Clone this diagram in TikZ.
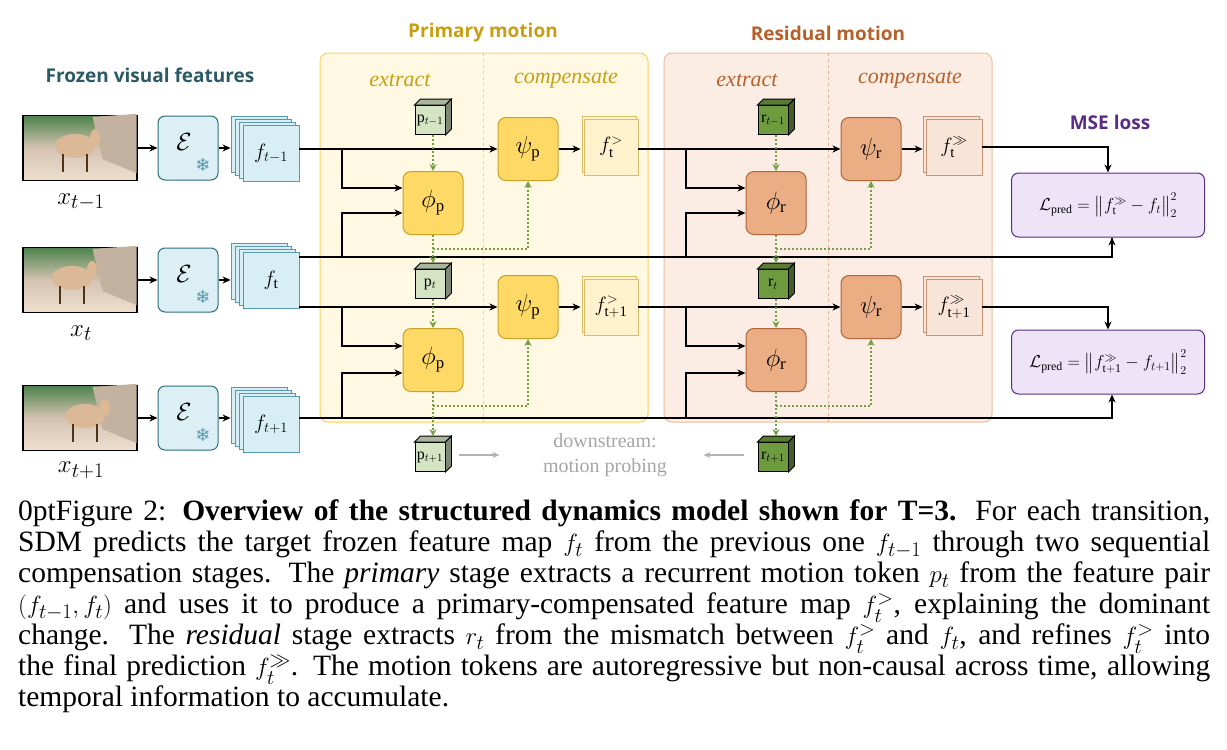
\documentclass[tikz,border=0pt]{standalone}
\usepackage{fontspec}
\usepackage{amsmath,amssymb}
\setmainfont{Liberation Serif}
\newfontfamily\djv{DejaVu Sans}
\newfontfamily\osans{Open Sans}
\usetikzlibrary{arrows.meta,calc}
\definecolor{fblue}{HTML}{D7EEF5}
\definecolor{fborder}{HTML}{5A98AE}
\definecolor{eblue}{HTML}{DCEFF4}
\definecolor{eborder}{HTML}{2E6E7C}
\definecolor{ygold}{HTML}{FFD966}
\definecolor{yborder}{HTML}{C9A227}
\definecolor{ypale}{HTML}{FFF2CC}
\definecolor{ytxt}{HTML}{C89E12}
\definecolor{ofill}{HTML}{EAAD84}
\definecolor{oborder}{HTML}{B0643A}
\definecolor{opale}{HTML}{F9E4D8}
\definecolor{otxt}{HTML}{B8602A}
\definecolor{pfill}{HTML}{EDE4F7}
\definecolor{pborder}{HTML}{5B2C83}
\definecolor{dgreen}{HTML}{72A043}
\definecolor{lgcube}{HTML}{D5E4C3}
\definecolor{dgcube}{HTML}{6E9B3D}
\definecolor{teal}{HTML}{2A5A66}
\tikzset{
 ln/.style={line width=1.4pt,black},
 arr/.style={ln,-{Stealth[length=8pt,width=7pt]}},
 gdot/.style={dgreen,line width=1.8pt,dash pattern=on 1.8pt off 2.2pt,-{Stealth[length=7pt,width=7pt]}},
 ebox/.style={draw=eborder,fill=eblue,line width=1pt,rounded corners=7pt,minimum width=60pt,minimum height=64pt,inner sep=0pt},
 fbox/.style={draw=fborder,fill=fblue,line width=0.8pt,minimum width=56pt,minimum height=56pt,inner sep=0pt,font=\fontsize{22}{24}\selectfont},
 ybox/.style={draw=yborder,fill=ygold,line width=1pt,rounded corners=8pt,minimum width=60pt,minimum height=63pt,inner sep=0pt,font=\fontsize{24}{26}\selectfont},
 obox/.style={draw=oborder,fill=ofill,line width=1pt,rounded corners=8pt,minimum width=60pt,minimum height=63pt,inner sep=0pt,font=\fontsize{24}{26}\selectfont},
 ypbox/.style={draw=yborder!70,fill=ypale,line width=0.8pt,minimum width=54pt,minimum height=56pt,inner sep=0pt,font=\fontsize{21}{23}\selectfont},
 opbox/.style={draw=oborder!70,fill=opale,line width=0.8pt,minimum width=56pt,minimum height=56pt,inner sep=0pt,font=\fontsize{21}{23}\selectfont},
 msebox/.style={draw=pborder,fill=pfill,line width=1pt,rounded corners=7pt,minimum width=193pt,minimum height=64pt,inner sep=0pt,font=\fontsize{17}{19}\selectfont},
 cubef/.style={draw=black,line width=0.9pt,minimum width=30pt,minimum height=29pt,inner sep=0pt,font=\fontsize{16}{17}\selectfont},
 ttl/.style={font=\osans\bfseries\fontsize{19}{21}\selectfont},
 phase/.style={font=\itshape\fontsize{22}{24}\selectfont},
 xlab/.style={font=\fontsize{28}{30}\selectfont},
}
\newcommand\featstack[4]{%
 \foreach \d in {12,8,4}{\draw[fill=fblue,draw=fborder,line width=0.8pt] ({#2-28-\d},{#3-28-\d*0.75}) rectangle ++(56,56);}
 \node[fbox] (#1) at (#2,#3) {#4};}
\newcommand\mycube[5]{% name x y fill label
 \node[cubef,fill=#4] (#1) at (#2,#3) {#5};
 \draw[fill=#4!80!black,line width=0.9pt] (#1.north west) -- ++(6,-6) -- ($(#1.north east)+(6,-6)$) -- (#1.north east) -- cycle;
 \draw[fill=#4!60!black,line width=0.9pt] (#1.north east) -- ++(6,-6) -- ($(#1.south east)+(6,-6)$) -- (#1.south east) -- cycle;}
\newcommand\camimg[4]{% name x y camel-x offset
 \node[draw=black,line width=1.2pt,minimum width=114pt,minimum height=65pt,inner sep=0pt,top color=green!30!black!70,bottom color=brown!25!white,middle color=brown!30!white!90!black] (#1) at (#2,#3) {};
 \fill[gray!55!brown!60] ($(#1.north east)+(-45,2)$) -- ($(#1.north east)+(-1,-1)$) -- ($(#1.south east)+(-1,-8)$) -- ($(#1.south east)+(-35,-22)$) -- cycle;
 \fill[brown!55!white] ($(#1.center)+(#4,-2)$) ellipse (20pt and 12pt);
 \fill[brown!55!white] ($(#1.center)+(#4,-2)+(20,-8)$) ellipse (5pt and 9pt);
 \draw[brown!40!black,line width=2pt] ($(#1.center)+(#4,-2)+(-12,8)$) -- ++(0,18) ($(#1.center)+(#4,-2)+(12,8)$) -- ++(0,18);}
\begin{document}
\begin{tikzpicture}[x=1pt,y=-1pt]
\useasboundingbox (0,0) rectangle (1227,750);
\fill[white] (0,0) rectangle (1227,750);
% panels
\draw[draw=ygold!90!orange,fill=ypale!55,line width=1pt,rounded corners=8pt] (320,53) rectangle (648,422);
\draw[dashed,ygold!90!orange,line width=0.8pt] (483,53) -- (483,422);
\draw[draw=ofill!80,fill=opale!70,line width=1pt,rounded corners=8pt] (664,53) rectangle (992,422);
\draw[dashed,ofill,line width=0.8pt] (828,53) -- (828,422);
\node[ttl,ytxt] (tp) at (483,33) {Primary motion};
\node[ttl,otxt] (tr) at (828,33) {Residual motion};
\node[ttl,teal] (tf) at (150,75) {Frozen visual features};
\node[ttl,pborder] (tm) at (1110,122) {MSE loss};
\node[phase,ytxt] (pe) at (400,80) {extract};
\node[phase,ytxt] (pc) at (566,80) {compensate};
\node[phase,otxt] (re) at (747,80) {extract};
\node[phase,otxt] (rc) at (910,80) {compensate};
% rows
\coordinate (y1) at (0,149);
\coordinate (y2a) at (0,257);
\coordinate (y2b) at (0,307);
\coordinate (y3) at (0,418);
\camimg{img1}{80}{148}{-5}
\camimg{img2}{80}{280}{-8}
\camimg{img3}{80}{418}{5}
\node[xlab] (x1) at (81,202) {$x_{t-1}$};
\node[xlab] (x2) at (81,333) {$x_t$};
\node[xlab] (x3) at (81,470) {$x_{t+1}$};
\foreach \n/\y in {1/148,2/280,3/418}{
 \node[ebox] (e\n) at (188,\y) {};
 \node[font=\fontsize{32}{32}\selectfont] at ($(e\n.center)+(-4,-6)$) {$\mathcal{E}$};
 \node[font=\djv\fontsize{18}{18}\selectfont,color=fborder] at ($(e\n.center)+(15,17)$) {❄};
}
\featstack{f1}{271}{153}{$f_{t-1}$}
\featstack{f2}{271}{280}{$f_{\mathrm t}$}
\featstack{f3}{271}{424}{$f_{t+1}$}
\draw[arr] (img1.east) -- (e1.west);
\draw[arr] (img2.east) -- (e2.west);
\draw[arr] (img3.east) -- (e3.west);
\draw[arr] (e1.east) -- ($(f1.west)+(-12,-5)$);
\draw[arr] (e2.east) -- ($(f2.west)+(-12,0)$);
\draw[arr] (e3.east) -- ($(f3.west)+(-12,-6)$);
% primary
\node[ybox] (psp1) at (528,149) {$\psi_{\mathrm p}$};
\node[ybox] (psp2) at (528,307) {$\psi_{\mathrm p}$};
\node[ybox] (php1) at (433,203) {$\phi_{\mathrm p}$};
\node[ybox] (php2) at (433,360) {$\phi_{\mathrm p}$};
\foreach \n/\y/\l in {1/147/{$f_{\mathrm t}^{>}$},2/307/{$f_{\mathrm{t+1}}^{>}$}}{
 \draw[draw=yborder!70,fill=ypale,line width=0.8pt] (582,{\y-31}) rectangle ++(54,56);
 \node[ypbox] (fp\n) at (611,\y) {\l};}
% residual
\node[obox] (psr1) at (871,149) {$\psi_{\mathrm r}$};
\node[obox] (psr2) at (871,307) {$\psi_{\mathrm r}$};
\node[obox] (phr1) at (776,203) {$\phi_{\mathrm r}$};
\node[obox] (phr2) at (776,360) {$\phi_{\mathrm r}$};
\foreach \n/\y/\l in {1/147/{$f_{\mathrm t}^{\gg}$},2/307/{$f_{\mathrm{t+1}}^{\gg}$}}{
 \draw[draw=oborder!70,fill=opale,line width=0.8pt] (923,{\y-31}) rectangle ++(56,56);
 \node[opbox] (fr\n) at (954,\y) {\l};}
\node[msebox] (m1) at (1108,205) {$\mathcal{L}_{\mathrm{pred}}=\big\|f_{\mathrm t}^{\gg}-f_t\big\|_2^2$};
\node[msebox] (m2) at (1108,362) {$\mathcal{L}_{\mathrm{pred}}=\big\|f_{\mathrm{t+1}}^{\gg}-f_{t+1}\big\|_2^2$};
% cubes
\mycube{p1}{430}{120}{lgcube}{$\mathrm p_{t-1}$}
\mycube{p2}{430}{284}{lgcube}{$\mathrm p_{t}$}
\mycube{p3}{430}{457}{lgcube}{$\mathrm p_{t+1}$}
\mycube{r1}{773}{120}{dgcube}{$\mathrm r_{t-1}$}
\mycube{r2}{773}{284}{dgcube}{$\mathrm r_{t}$}
\mycube{r3}{773}{457}{dgcube}{$\mathrm r_{t+1}$}
% black connectors
\draw[arr] (f1.east |- y1) -- (psp1.west);
\draw[arr] (342,149) |- ($(php1.west)+(0,-15)$);
\draw[arr] (342,257) |- ($(php1.west)+(0,10)$);
\draw[ln] (f2.east |- y2a) -| ($(m1.south)+(4,0)$);
\draw[arr] (1112,257) -- ($(m1.south)+(4,0)$);
\draw[arr] (f2.east |- y2b) -- (psp2.west);
\draw[arr] (342,307) |- ($(php2.west)+(0,-14)$);
\draw[arr] (342,418) |- ($(php2.west)+(0,13)$);
\draw[arr] (f3.east |- y3) -| ($(m2.south)+(4,0)$);
\draw[arr] (psp1.east) -- ($(fp1.west)+(-3,2)$);
\draw[arr] (psp2.east) -- ($(fp2.west)+(-3,0)$);
\draw[arr] (fp1.east |- y1) -- (psr1.west);
\draw[arr] (686,149) |- ($(phr1.west)+(0,-15)$);
\draw[arr] (686,257) |- ($(phr1.west)+(0,10)$);
\draw[arr] (fp2.east |- y2b) -- (psr2.west);
\draw[arr] (686,307) |- ($(phr2.west)+(0,-14)$);
\draw[arr] (686,418) |- ($(phr2.west)+(0,13)$);
\draw[arr] (psr1.east) -- ($(fr1.west)+(-3,2)$);
\draw[arr] (psr2.east) -- ($(fr2.west)+(-3,0)$);
\draw[arr] (fr1.east) -| (m1.north);
\draw[arr] (fr2.east) -| (m2.north);
% dotted green
\foreach \a/\b/\c/\d/\e/\f in {p1/php1/p2/php2/p3/psp,r1/phr1/r2/phr2/r3/psr}{
 \draw[gdot] ($(\a.south)+(3,0)$) -- (\b.north);
 \draw[gdot] (\b.south) -- ($(\c.north)+(3,-6)$);
 \draw[gdot] ($(\c.south)+(3,0)$) -- (\d.north);
 \draw[gdot] (\d.south) -- ($(\e.north)+(3,-6)$);
 \draw[gdot] ($(\b.south)+(0,14)$) -| (\f1.south);
 \draw[gdot] ($(\d.south)+(0,14)$) -| (\f2.south);
}
% downstream
\draw[gray!60,line width=1.4pt,-{Stealth[length=7pt,width=6pt]}] ($(p3.east)+(14,-2)$) -- ++(40,0);
\draw[gray!60,line width=1.4pt,-{Stealth[length=7pt,width=6pt]}] ($(r3.west)+(-14,-2)$) -- ++(-40,0);
\node[gray!70,font=\fontsize{20}{25}\selectfont,align=center] (ds) at (605,455) {downstream:\\motion probing};
% caption
\node[anchor=north west,text width=1192pt,align=justify,inner sep=0pt,font=\fontsize{29.5}{31}\selectfont\spaceskip=0.22em plus 0.25em minus 0.1em] (cap) at (18,500) {Figure 2: \textbf{Overview of the structured dynamics model shown for T=3.} For each transition,\linebreak SDM predicts the target frozen feature map $f_t$ from the previous one $f_{t-1}$ through two sequential\linebreak compensation stages. The \emph{primary} stage extracts a recurrent motion token $p_t$ from the feature pair\linebreak $(f_{t-1},f_t)$ and uses it to produce a primary-compensated feature map $f_t^{>}$, explaining the dominant\linebreak change. The \emph{residual} stage extracts $r_t$ from the mismatch between $f_t^{>}$ and $f_t$, and refines $f_t^{>}$ into\linebreak the final prediction $f_t^{\gg}$. The motion tokens are autoregressive but non-causal across time, allowing\linebreak temporal information to accumulate.};
\end{tikzpicture}
\end{document}
